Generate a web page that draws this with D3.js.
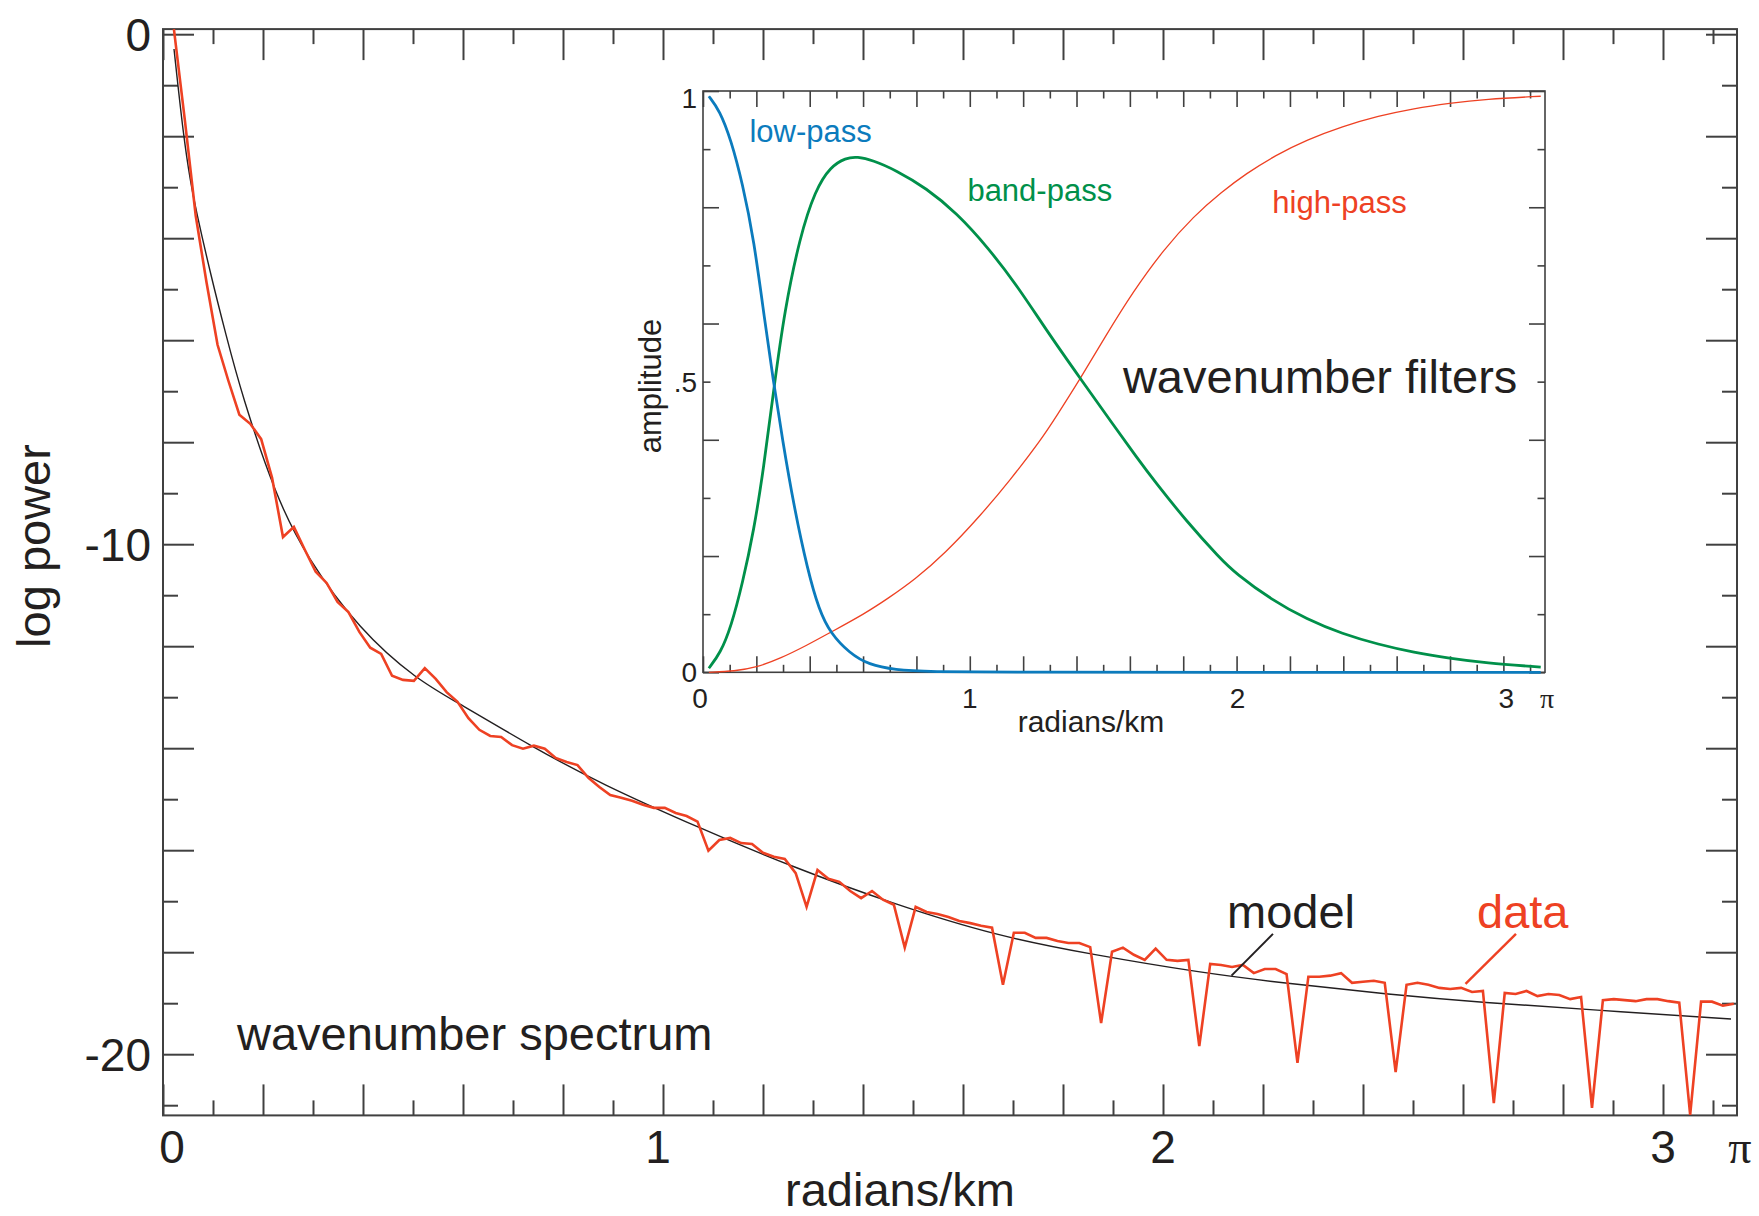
<!DOCTYPE html>
<html>
<head>
<meta charset="utf-8">
<script src="https://cdn.jsdelivr.net/npm/d3@7"></script>
<style>
  body { margin: 0; background: #fff; }
  svg { display: block; font-family: "Liberation Sans", Arial, sans-serif; }
</style>
</head>
<body>
<svg id="chart" width="1759" height="1216"></svg>
<script>
// spectrum samples, sample i sits at k = i*pi/144
const sampleCount = 144;
const dataPower = [
  0.10, -1.68, -3.56, -4.88, -6.09, -6.80, -7.46, -7.64, -7.94, -8.70,
  -9.86, -9.66, -10.11, -10.54, -10.76, -11.13, -11.33, -11.72, -12.03, -12.15,
  -12.58, -12.66, -12.68, -12.43, -12.64, -12.90, -13.09, -13.41, -13.64, -13.76,
  -13.78, -13.94, -14.01, -13.95, -14.01, -14.19, -14.27, -14.33, -14.58, -14.76,
  -14.92, -14.97, -15.03, -15.11, -15.17, -15.17, -15.27, -15.33, -15.44, -16.01,
  -15.80, -15.76, -15.86, -15.88, -16.05, -16.13, -16.17, -16.45, -17.11, -16.39,
  -16.56, -16.62, -16.80, -16.94, -16.80, -16.97, -17.07, -17.91, -17.11, -17.21,
  -17.25, -17.31, -17.39, -17.43, -17.48, -17.52, -18.64, -17.62, -17.62, -17.72,
  -17.72, -17.78, -17.82, -17.82, -17.90, -19.39, -17.99, -17.91, -18.05, -18.15,
  -17.93, -18.15, -18.17, -18.15, -19.84, -18.23, -18.25, -18.29, -18.25, -18.41,
  -18.33, -18.33, -18.43, -20.17, -18.48, -18.48, -18.46, -18.41, -18.60, -18.58,
  -18.56, -18.60, -20.35, -18.64, -18.60, -18.64, -18.70, -18.72, -18.70, -18.78,
  -18.76, -20.96, -18.80, -18.82, -18.76, -18.86, -18.82, -18.84, -18.92, -18.88,
  -21.05, -18.94, -18.92, -18.94, -18.96, -18.92, -18.92, -18.96, -18.99, -21.19,
  -18.97, -18.97, -19.05, -19.01
];

// smooth model curve
const modelK = [0.022, 0.041, 0.055, 0.066, 0.095, 0.126, 0.157, 0.225, 0.286, 0.393,
  0.508, 0.592, 0.738, 0.874, 1.081, 1.257, 1.456, 1.670, 1.861, 2.074,
  2.245, 2.445, 2.644, 2.858, 3.136];
const modelPower = [-0.29, -2.01, -2.90, -3.45, -4.70, -5.90, -7.05, -9.05, -10.24, -11.68,
  -12.66, -13.12, -13.97, -14.69, -15.60, -16.32, -17.04, -17.69, -18.05, -18.40,
  -18.61, -18.82, -18.99, -19.13, -19.31];

// filters (inset)
const lowK = [0.022, 0.062, 0.105, 0.148, 0.191, 0.231, 0.263, 0.298, 0.341, 0.392,
  0.435, 0.478, 0.549, 0.621, 0.722, 0.836, 1.2, 2.0, 3.14];
const lowAmp = [0.991, 0.967, 0.916, 0.841, 0.744, 0.606, 0.503, 0.400, 0.285, 0.176,
  0.107, 0.067, 0.033, 0.013, 0.004, 0.001, 0, 0, 0];

const bandK = [0.022, 0.065, 0.105, 0.148, 0.191, 0.227, 0.266, 0.306, 0.363, 0.421,
  0.478, 0.535, 0.578, 0.636, 0.722, 0.837, 0.951, 1.066, 1.181, 1.295,
  1.418, 1.539, 1.625, 1.697, 1.812, 1.938, 1.997, 2.130, 2.264, 2.397,
  2.531, 2.665, 2.798, 2.932, 3.14];
const bandAmp = [0.007, 0.033, 0.078, 0.153, 0.245, 0.350, 0.490, 0.623, 0.749, 0.830,
  0.870, 0.885, 0.887, 0.881, 0.864, 0.833, 0.790, 0.732, 0.663, 0.583,
  0.503, 0.425, 0.370, 0.326, 0.260, 0.196, 0.170, 0.125, 0.091, 0.066,
  0.048, 0.034, 0.024, 0.016, 0.009];

const highK = [0.022, 0.119, 0.198, 0.291, 0.392, 0.471, 0.607, 0.693, 0.793, 0.908,
  1.037, 1.152, 1.267, 1.324, 1.418, 1.511, 1.611, 1.726, 1.840, 1.943,
  2.036, 2.144, 2.264, 2.397, 2.531, 2.665, 2.798, 2.932, 3.14];
const highAmp = [0.000, 0.002, 0.008, 0.024, 0.047, 0.067, 0.101, 0.127, 0.159, 0.205,
  0.268, 0.331, 0.400, 0.440, 0.508, 0.580, 0.654, 0.727, 0.785, 0.826,
  0.858, 0.889, 0.916, 0.939, 0.957, 0.970, 0.979, 0.986, 0.991];

const xTickValues = [0, 1, 2, 3, Math.PI];
const xTickLabels = ["0", "1", "2", "3", "\u03c0"];
const powerTickValues = [0, -10, -20];
const powerTickLabels = ["0", "-10", "-20"];
const ampTickValues = [0, 0.5, 1];
const ampTickLabels = ["0", ".5", "1"];

const RED = "#ee4123", BLUE = "#0b7bbd", GREEN = "#00904a", INK = "#231f20", AXIS = "#404040";

const svg = d3.select("#chart");

// draws the four sides with inward ticks, long on majors
function drawFrame(g, x, y, xVals, yVals, isMajorX, isMajorY, longLen, shortLen, width) {
  const [x0, x1] = x.range();
  const [y0, y1] = y.range();   // y0 bottom, y1 top
  const sides = [
    [d3.axisBottom(x), `translate(0,${y0})`, xVals, isMajorX],
    [d3.axisTop(x), `translate(0,${y1})`, xVals, isMajorX],
    [d3.axisLeft(y), `translate(${x0},0)`, yVals, isMajorY],
    [d3.axisRight(y), `translate(${x1},0)`, yVals, isMajorY]
  ];
  sides.forEach(([axis, tr, vals, isMajor]) => {
    [[vals.filter(isMajor), longLen], [vals.filter(v => !isMajor(v)), shortLen]].forEach(([tv, len]) => {
      const a = g.append("g").attr("transform", tr)
        .call(axis.tickValues(tv).tickSize(-len).tickFormat(""));
      a.select(".domain").remove();
      a.selectAll("line").attr("stroke", AXIS).attr("stroke-width", width);
    });
  });
  g.append("rect")
    .attr("x", x0).attr("y", y1)
    .attr("width", x1 - x0).attr("height", y0 - y1)
    .attr("fill", "none").attr("stroke", AXIS).attr("stroke-width", width);
}

// ---------- main spectrum ----------
const x = d3.scaleLinear().domain([0, 3.148]).range([163, 1737]);
const y = d3.scaleLinear().domain([-21.2, 0.1]).range([1115.4, 29.1]);

const main = svg.append("g");
const tenths = d3.range(0, 32).map(j => j / 10);
const units = d3.range(0, 22).map(j => -j);
drawFrame(main, x, y, tenths,
  units,
  v => Math.round(v * 10) % 2 === 0,
  v => Math.abs(v) % 2 === 0,
  31, 15, 2);

main.selectAll(".xl").data(xTickValues).join("text")
  .attr("x", (d, i) => x(d) + [9, -5, 0, 0, 6][i])
  .attr("y", 1163)
  .attr("text-anchor", "middle")
  .attr("font-size", 46)
  .attr("font-family", (d, i) => i === 4 ? "Liberation Serif, serif" : null)
  .attr("fill", INK)
  .text((d, i) => xTickLabels[i]);

main.selectAll(".yl").data(powerTickValues).join("text")
  .attr("x", 151)
  .attr("y", d => y(d))
  .attr("dy", "0.36em")
  .attr("text-anchor", "end")
  .attr("font-size", 46)
  .attr("fill", INK)
  .text((d, i) => powerTickLabels[i]);

main.append("text")
  .attr("x", 900).attr("y", 1206)
  .attr("text-anchor", "middle").attr("font-size", 47).attr("fill", INK)
  .text("radians/km");

main.append("text")
  .attr("transform", `translate(50,546) rotate(-90)`)
  .attr("text-anchor", "middle").attr("font-size", 47).attr("fill", INK)
  .text("log power");

const modelLine = d3.line().x(d => x(d[0])).y(d => y(d[1])).curve(d3.curveBasis);
main.append("path")
  .datum(modelK.map((k, i) => [k, modelPower[i]]))
  .attr("d", modelLine)
  .attr("fill", "none").attr("stroke", INK).attr("stroke-width", 1.4);

const dataLine = d3.line().x(d => x(d[0])).y(d => y(d[1]));
main.append("path")
  .datum(dataPower.map((v, i) => [(i + 1) * Math.PI / sampleCount, v]))
  .attr("d", dataLine)
  .attr("fill", "none").attr("stroke", RED).attr("stroke-width", 2.6)
  .attr("stroke-linejoin", "miter");

main.append("text")
  .attr("x", x(0.148)).attr("y", y(-19.92))
  .attr("font-size", 47).attr("fill", INK)
  .text("wavenumber spectrum");

main.append("text")
  .attr("x", x(2.128)).attr("y", y(-17.52))
  .attr("font-size", 47).attr("fill", INK)
  .text("model");
main.append("line")
  .attr("x1", x(2.22)).attr("y1", y(-17.64))
  .attr("x2", x(2.137)).attr("y2", y(-18.46))
  .attr("stroke", INK).attr("stroke-width", 2);

main.append("text")
  .attr("x", x(2.628)).attr("y", y(-17.52))
  .attr("font-size", 47).attr("fill", RED)
  .text("data");
main.append("line")
  .attr("x1", x(2.706)).attr("y1", y(-17.64))
  .attr("x2", x(2.605)).attr("y2", y(-18.62))
  .attr("stroke", RED).attr("stroke-width", 2.4);

// ---------- inset: wavenumber filters ----------
const ix = d3.scaleLinear().domain([0, 3.156]).range([703, 1545]);
const iy = d3.scaleLinear().domain([0, 1]).range([672.3, 91]);

const inset = svg.append("g");
inset.append("rect")
  .attr("x", 703).attr("y", 91).attr("width", 842).attr("height", 581.3)
  .attr("fill", "#fff");
drawFrame(inset, ix, iy,
  d3.range(0, 32).map(j => j / 10),
  d3.range(0, 11).map(j => j / 10),
  v => Math.round(v * 10) % 2 === 0,
  v => Math.round(v * 10) % 2 === 0,
  16, 7.5, 1.6);

inset.selectAll(".xl").data(xTickValues).join("text")
  .attr("x", (d, i) => ix(d) + [-3, 0, 1, 3, 6][i])
  .attr("y", 708)
  .attr("text-anchor", "middle")
  .attr("font-size", 28)
  .attr("font-family", (d, i) => i === 4 ? "Liberation Serif, serif" : null)
  .attr("fill", INK)
  .text((d, i) => xTickLabels[i]);

inset.selectAll(".yl").data(ampTickValues).join("text")
  .attr("x", 697)
  .attr("y", d => Math.max(iy(d), 98))
  .attr("dy", "0.36em")
  .attr("text-anchor", "end")
  .attr("font-size", 28)
  .attr("fill", INK)
  .text((d, i) => ampTickLabels[i]);

inset.append("text")
  .attr("x", 1091).attr("y", 732)
  .attr("text-anchor", "middle").attr("font-size", 30).attr("fill", INK)
  .text("radians/km");

inset.append("text")
  .attr("transform", `translate(661,386) rotate(-90)`)
  .attr("text-anchor", "middle").attr("font-size", 31).attr("fill", INK)
  .text("amplitude");

const filterLine = d3.line().x(d => ix(d[0])).y(d => iy(d[1])).curve(d3.curveBasis);
const filters = [
  { k: highK, a: highAmp, color: RED, w: 1.3 },
  { k: bandK, a: bandAmp, color: GREEN, w: 2.8 },
  { k: lowK, a: lowAmp, color: BLUE, w: 2.8 }
];
inset.selectAll(".filter").data(filters).join("path")
  .attr("d", f => filterLine(f.k.map((k, i) => [k, f.a[i]])))
  .attr("fill", "none")
  .attr("stroke", f => f.color)
  .attr("stroke-width", f => f.w);

inset.append("text")
  .attr("x", ix(0.174)).attr("y", iy(0.913))
  .attr("font-size", 31).attr("fill", BLUE).text("low-pass");
inset.append("text")
  .attr("x", ix(0.991)).attr("y", iy(0.810))
  .attr("font-size", 31).attr("fill", GREEN).text("band-pass");
inset.append("text")
  .attr("x", ix(2.134)).attr("y", iy(0.790))
  .attr("font-size", 31).attr("fill", RED).text("high-pass");
inset.append("text")
  .attr("x", ix(1.574)).attr("y", iy(0.480))
  .attr("font-size", 47).attr("fill", INK).text("wavenumber filters");
</script>
</body>
</html>
